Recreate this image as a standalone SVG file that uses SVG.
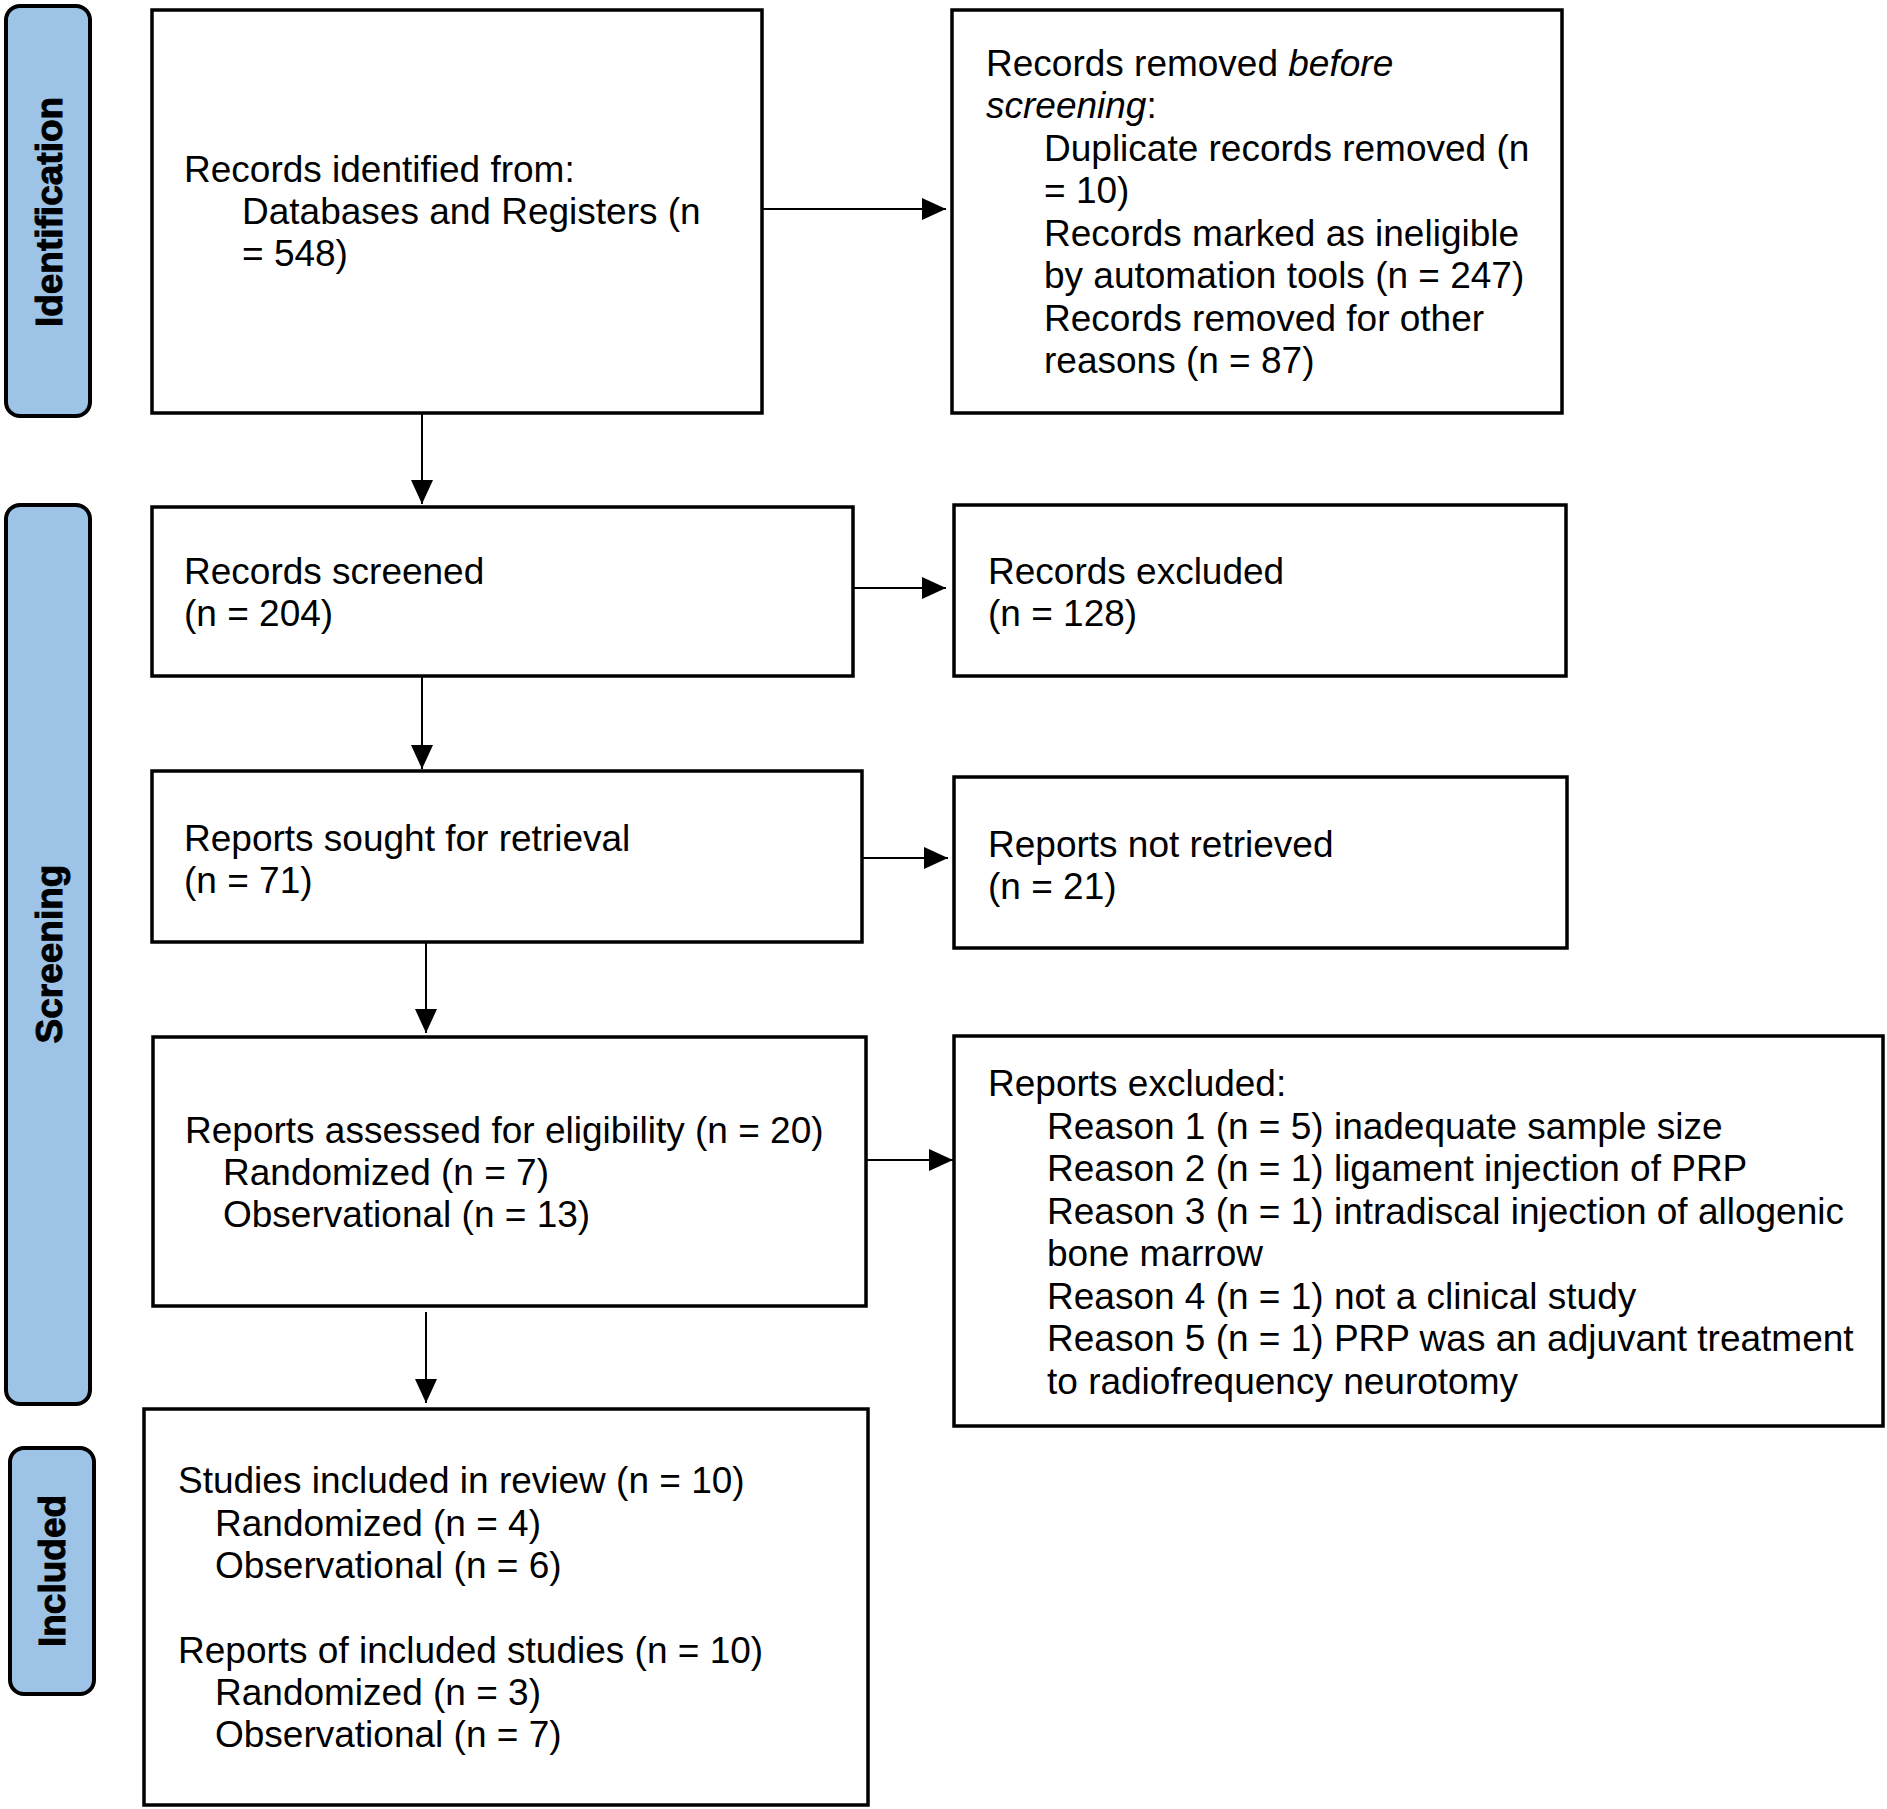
<svg xmlns="http://www.w3.org/2000/svg" width="1887" height="1809" viewBox="0 0 1887 1809">
<defs>
<style>
.box{fill:#fff;stroke:#000;stroke-width:3.5}
.lane{fill:#9DC3E6;stroke:#000;stroke-width:4}
.t{font-family:"Liberation Sans",Arial,sans-serif;font-size:37px;fill:#000}
.lt{font-family:"Liberation Sans",Arial,sans-serif;font-size:37px;font-weight:bold;fill:#000;stroke:#000;stroke-width:1}
.c{fill:none;stroke:#000;stroke-width:2}
</style>
<marker id="ah" markerUnits="userSpaceOnUse" markerWidth="24" markerHeight="22" refX="24" refY="11" orient="auto">
<path d="M0,0 L24,11 L0,22 z" fill="#000"/>
</marker>
</defs>
<rect width="1887" height="1809" fill="#fff"/>

<g id="lane-identification">
<rect class="lane" x="6" y="6" width="84" height="410" rx="14"/>
<text class="lt" transform="translate(62,212) rotate(-90)" text-anchor="middle">Identification</text>
</g>
<g id="lane-screening">
<rect class="lane" x="6" y="505" width="84" height="899" rx="14"/>
<text class="lt" transform="translate(62,954) rotate(-90)" text-anchor="middle">Screening</text>
</g>
<g id="lane-included">
<rect class="lane" x="10" y="1448" width="84" height="246" rx="14"/>
<text class="lt" transform="translate(65,1571) rotate(-90)" text-anchor="middle">Included</text>
</g>

<g id="connectors">
<path class="c" d="M762,209 H946" marker-end="url(#ah)"/>
<path class="c" d="M422,413 V504" marker-end="url(#ah)"/>
<path class="c" d="M853,588 H946" marker-end="url(#ah)"/>
<path class="c" d="M422,676 V769" marker-end="url(#ah)"/>
<path class="c" d="M856,858 H948" marker-end="url(#ah)"/>
<path class="c" d="M426,942 V1033" marker-end="url(#ah)"/>
<path class="c" d="M864,1160 H953" marker-end="url(#ah)"/>
<path class="c" d="M426,1312 V1403" marker-end="url(#ah)"/>
</g>

<g id="records-identified">
<rect class="box" x="152" y="10" width="610" height="403"/>
<text class="t" x="184" y="182">Records identified from:</text>
<text class="t" x="242" y="224">Databases and Registers (n</text>
<text class="t" x="242" y="266">= 548)</text>
</g>

<g id="records-removed">
<rect class="box" x="952" y="10" width="610" height="403"/>
<text class="t" x="986" y="76">Records removed <tspan font-style="italic">before</tspan></text>
<text class="t" x="986" y="118"><tspan font-style="italic">screening</tspan>:</text>
<text class="t" x="1044" y="161">Duplicate records removed (n</text>
<text class="t" x="1044" y="203">= 10)</text>
<text class="t" x="1044" y="246">Records marked as ineligible</text>
<text class="t" x="1044" y="288">by automation tools (n = 247)</text>
<text class="t" x="1044" y="331">Records removed for other</text>
<text class="t" x="1044" y="373">reasons (n = 87)</text>
</g>

<g id="records-screened">
<rect class="box" x="152" y="507" width="701" height="169"/>
<text class="t" x="184" y="584">Records screened</text>
<text class="t" x="184" y="626">(n = 204)</text>
</g>

<g id="records-excluded">
<rect class="box" x="954" y="505" width="612" height="171"/>
<text class="t" x="988" y="584">Records excluded</text>
<text class="t" x="988" y="626">(n = 128)</text>
</g>

<g id="reports-sought">
<rect class="box" x="152" y="771" width="710" height="171"/>
<text class="t" x="184" y="851">Reports sought for retrieval</text>
<text class="t" x="184" y="893">(n = 71)</text>
</g>

<g id="reports-not-retrieved">
<rect class="box" x="954" y="777" width="613" height="171"/>
<text class="t" x="988" y="857">Reports not retrieved</text>
<text class="t" x="988" y="899">(n = 21)</text>
</g>

<g id="reports-assessed">
<rect class="box" x="153" y="1037" width="713" height="269"/>
<text class="t" x="185" y="1143">Reports assessed for eligibility (n = 20)</text>
<text class="t" x="223" y="1185">Randomized (n = 7)</text>
<text class="t" x="223" y="1227">Observational (n = 13)</text>
</g>

<g id="reports-excluded">
<rect class="box" x="954" y="1036" width="929" height="390"/>
<text class="t" x="988" y="1096">Reports excluded:</text>
<text class="t" x="1047" y="1139">Reason 1 (n = 5) inadequate sample size</text>
<text class="t" x="1047" y="1181">Reason 2 (n = 1) ligament injection of PRP</text>
<text class="t" x="1047" y="1224">Reason 3 (n = 1) intradiscal injection of allogenic</text>
<text class="t" x="1047" y="1266">bone marrow</text>
<text class="t" x="1047" y="1309">Reason 4 (n = 1) not a clinical study</text>
<text class="t" x="1047" y="1351">Reason 5 (n = 1) PRP was an adjuvant treatment</text>
<text class="t" x="1047" y="1394">to radiofrequency neurotomy</text>
</g>

<g id="studies-included">
<rect class="box" x="144" y="1409" width="724" height="396"/>
<text class="t" x="178" y="1493">Studies included in review (n = 10)</text>
<text class="t" x="215" y="1536">Randomized (n = 4)</text>
<text class="t" x="215" y="1578">Observational (n = 6)</text>
<text class="t" x="178" y="1663">Reports of included studies (n = 10)</text>
<text class="t" x="215" y="1705">Randomized (n = 3)</text>
<text class="t" x="215" y="1747">Observational (n = 7)</text>
</g>
</svg>
